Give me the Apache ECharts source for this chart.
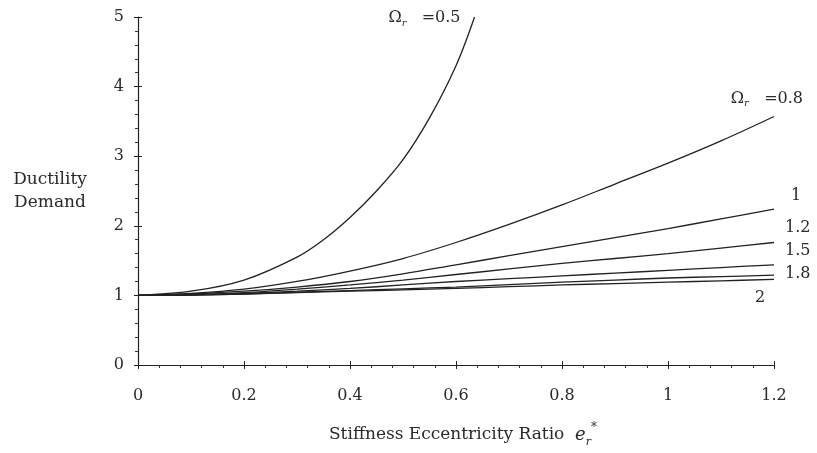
<!DOCTYPE html>
<html>
<head>
<meta charset="utf-8">
<script src="https://cdn.jsdelivr.net/npm/echarts@6/dist/echarts.min.js"></script>
<style>html,body{margin:0;padding:0;background:#fff}#c{width:817px;height:453px}</style>
</head>
<body>
<div id="c"></div>
<script>
// ---- data ----
var omegaValues = ['0.5', '0.8', '1', '1.2', '1.5', '1.8', '2'];
var xTicks = [0, 0.2, 0.4, 0.6, 0.8, 1, 1.2];
var yTicks = [0, 1, 2, 3, 4, 5];

var x05 = [0, 0.1, 0.2, 0.3, 0.35, 0.4, 0.45, 0.5, 0.55, 0.6, 0.635];
var y05 = [1, 1.06, 1.22, 1.55, 1.8, 2.12, 2.5, 2.95, 3.55, 4.3, 5.0];

var xStd = [0, 0.1, 0.2, 0.3, 0.4, 0.5, 0.6, 0.7, 0.8, 0.9, 1.0, 1.1, 1.2];
var y08 = [1, 1.03, 1.09, 1.2, 1.35, 1.53, 1.76, 2.02, 2.3, 2.6, 2.9, 3.22, 3.57];
var y10 = [1, 1.02, 1.06, 1.12, 1.2, 1.31, 1.44, 1.57, 1.70, 1.83, 1.96, 2.10, 2.24];
var y12 = [1, 1.01, 1.04, 1.09, 1.15, 1.22, 1.30, 1.38, 1.46, 1.53, 1.60, 1.68, 1.76];
var y15 = [1, 1.01, 1.03, 1.06, 1.1, 1.15, 1.2, 1.24, 1.28, 1.32, 1.36, 1.40, 1.44];
var y18 = [1, 1.005, 1.02, 1.045, 1.07, 1.095, 1.12, 1.155, 1.19, 1.22, 1.25, 1.27, 1.29];
var y20 = [1, 1.005, 1.02, 1.04, 1.06, 1.08, 1.10, 1.125, 1.15, 1.17, 1.19, 1.21, 1.23];

// ---- chart ----
var FONT = 'DejaVu Serif';
var TXT = '#2a2a2a';
var LINE = '#222';

function pairs(xs, ys) { return xs.map(function (x, i) { return [x, ys[i]]; }); }

var rich = {
  o: { fontFamily: FONT, fontSize: 16, color: TXT, lineHeight: 22, verticalAlign: 'middle' },
  r: { fontFamily: FONT, fontSize: 10, fontStyle: 'italic', color: TXT, lineHeight: 22, verticalAlign: 'bottom', padding: [0, 0, 1, 0] },
  t: { fontFamily: FONT, fontSize: 16, color: TXT, lineHeight: 22, verticalAlign: 'middle' }
};

function omegaLabel(v) { return '{o|Ω}{r|r}{t|   =' + v + '}'; }

var seriesDefs = [
  { xs: x05, ys: y05, label: omegaLabel(omegaValues[0]), align: 'right', offset: [-22, 1] },
  { xs: xStd, ys: y08, label: omegaLabel(omegaValues[1]), align: 'right', offset: [21, -18] },
  { xs: xStd, ys: y10, label: '{t|' + omegaValues[2] + '}', align: 'left', offset: [9, -13] },
  { xs: xStd, ys: y12, label: '{t|' + omegaValues[3] + '}', align: 'left', offset: [3, -15] },
  { xs: xStd, ys: y15, label: '{t|' + omegaValues[4] + '}', align: 'left', offset: [3, -14] },
  { xs: xStd, ys: y18, label: '{t|' + omegaValues[5] + '}', align: 'left', offset: [3, -1] },
  { xs: xStd, ys: y20, label: '{t|' + omegaValues[6] + '}', align: 'left', offset: [-27, 18] }
];

var series = seriesDefs.map(function (d) {
  return {
    type: 'line',
    xAxisIndex: 0, yAxisIndex: 0,
    data: pairs(d.xs, d.ys),
    smooth: 0.35,
    showSymbol: false,
    symbol: 'none',
    lineStyle: { color: LINE, width: 1.3 },
    endLabel: {
      show: true,
      formatter: function () { return d.label; },
      rich: rich,
      align: d.align,
      verticalAlign: 'middle',
      offset: d.offset
    },
    emphasis: { disabled: true },
    silent: true
  };
});

var axisLabelStyle = { fontFamily: FONT, fontSize: 16, color: TXT };

var option = {
  animation: false,
  backgroundColor: '#fff',
  grid: { left: 138, right: 43, top: 17, bottom: 83, containLabel: false },
  xAxis: [{
    type: 'value', min: xTicks[0], max: xTicks[xTicks.length - 1], interval: 0.2,
    splitLine: { show: false },
    axisLine: { show: true, lineStyle: { color: '#222', width: 1.2 } },
    axisTick: { show: true, inside: false, length: 4, lineStyle: { color: '#222' } },
    minorTick: { show: true, splitNumber: 5, length: 3, lineStyle: { color: '#333' } },
    axisLabel: Object.assign({ margin: 23 }, axisLabelStyle),
    name: 'Stiffness Eccentricity Ratio  {e|e}{r|r}{s|*}',
    nameLocation: 'middle',
    nameGap: 57,
    nameTextStyle: {
      fontFamily: FONT, fontSize: 17, color: TXT, padding: [0, 0, 0, 14],
      rich: {
        e: { fontFamily: FONT, fontSize: 18, fontStyle: 'italic', color: TXT, lineHeight: 26, verticalAlign: 'middle' },
        r: { fontFamily: FONT, fontSize: 11, fontStyle: 'italic', color: TXT, lineHeight: 26, verticalAlign: 'bottom' },
        s: { fontFamily: FONT, fontSize: 12, color: TXT, lineHeight: 26, verticalAlign: 'top' }
      }
    }
  }, {
    type: 'value', min: xTicks[0], max: xTicks[xTicks.length - 1], interval: 0.2,
    position: 'bottom',
    splitLine: { show: false },
    axisLine: { show: false },
    axisTick: { show: true, inside: true, length: 4, lineStyle: { color: '#222' } },
    minorTick: { show: false },
    axisLabel: { show: false }
  }],
  yAxis: [{
    type: 'value', min: yTicks[0], max: yTicks[yTicks.length - 1], interval: 1,
    splitLine: { show: false },
    axisLine: { show: true, lineStyle: { color: '#222', width: 1.2 } },
    axisTick: { show: true, inside: false, length: 4, lineStyle: { color: '#222' } },
    minorTick: { show: true, splitNumber: 5, length: 3, lineStyle: { color: '#333' } },
    axisLabel: Object.assign({ margin: 14 }, axisLabelStyle),
    name: 'Ductility\nDemand',
    nameLocation: 'middle',
    nameRotate: 0,
    nameGap: 88,
    nameTextStyle: { fontFamily: FONT, fontSize: 17, color: TXT, lineHeight: 23, align: 'center' }
  }, {
    type: 'value', min: yTicks[0], max: yTicks[yTicks.length - 1], interval: 1,
    position: 'left',
    splitLine: { show: false },
    axisLine: { show: false },
    axisTick: { show: true, inside: true, length: 4, lineStyle: { color: '#222' } },
    minorTick: { show: false },
    axisLabel: { show: false }
  }],
  series: series
};

var chart = echarts.init(document.getElementById('c'), null, { renderer: 'canvas' });
chart.setOption(option);
</script>
</body>
</html>
